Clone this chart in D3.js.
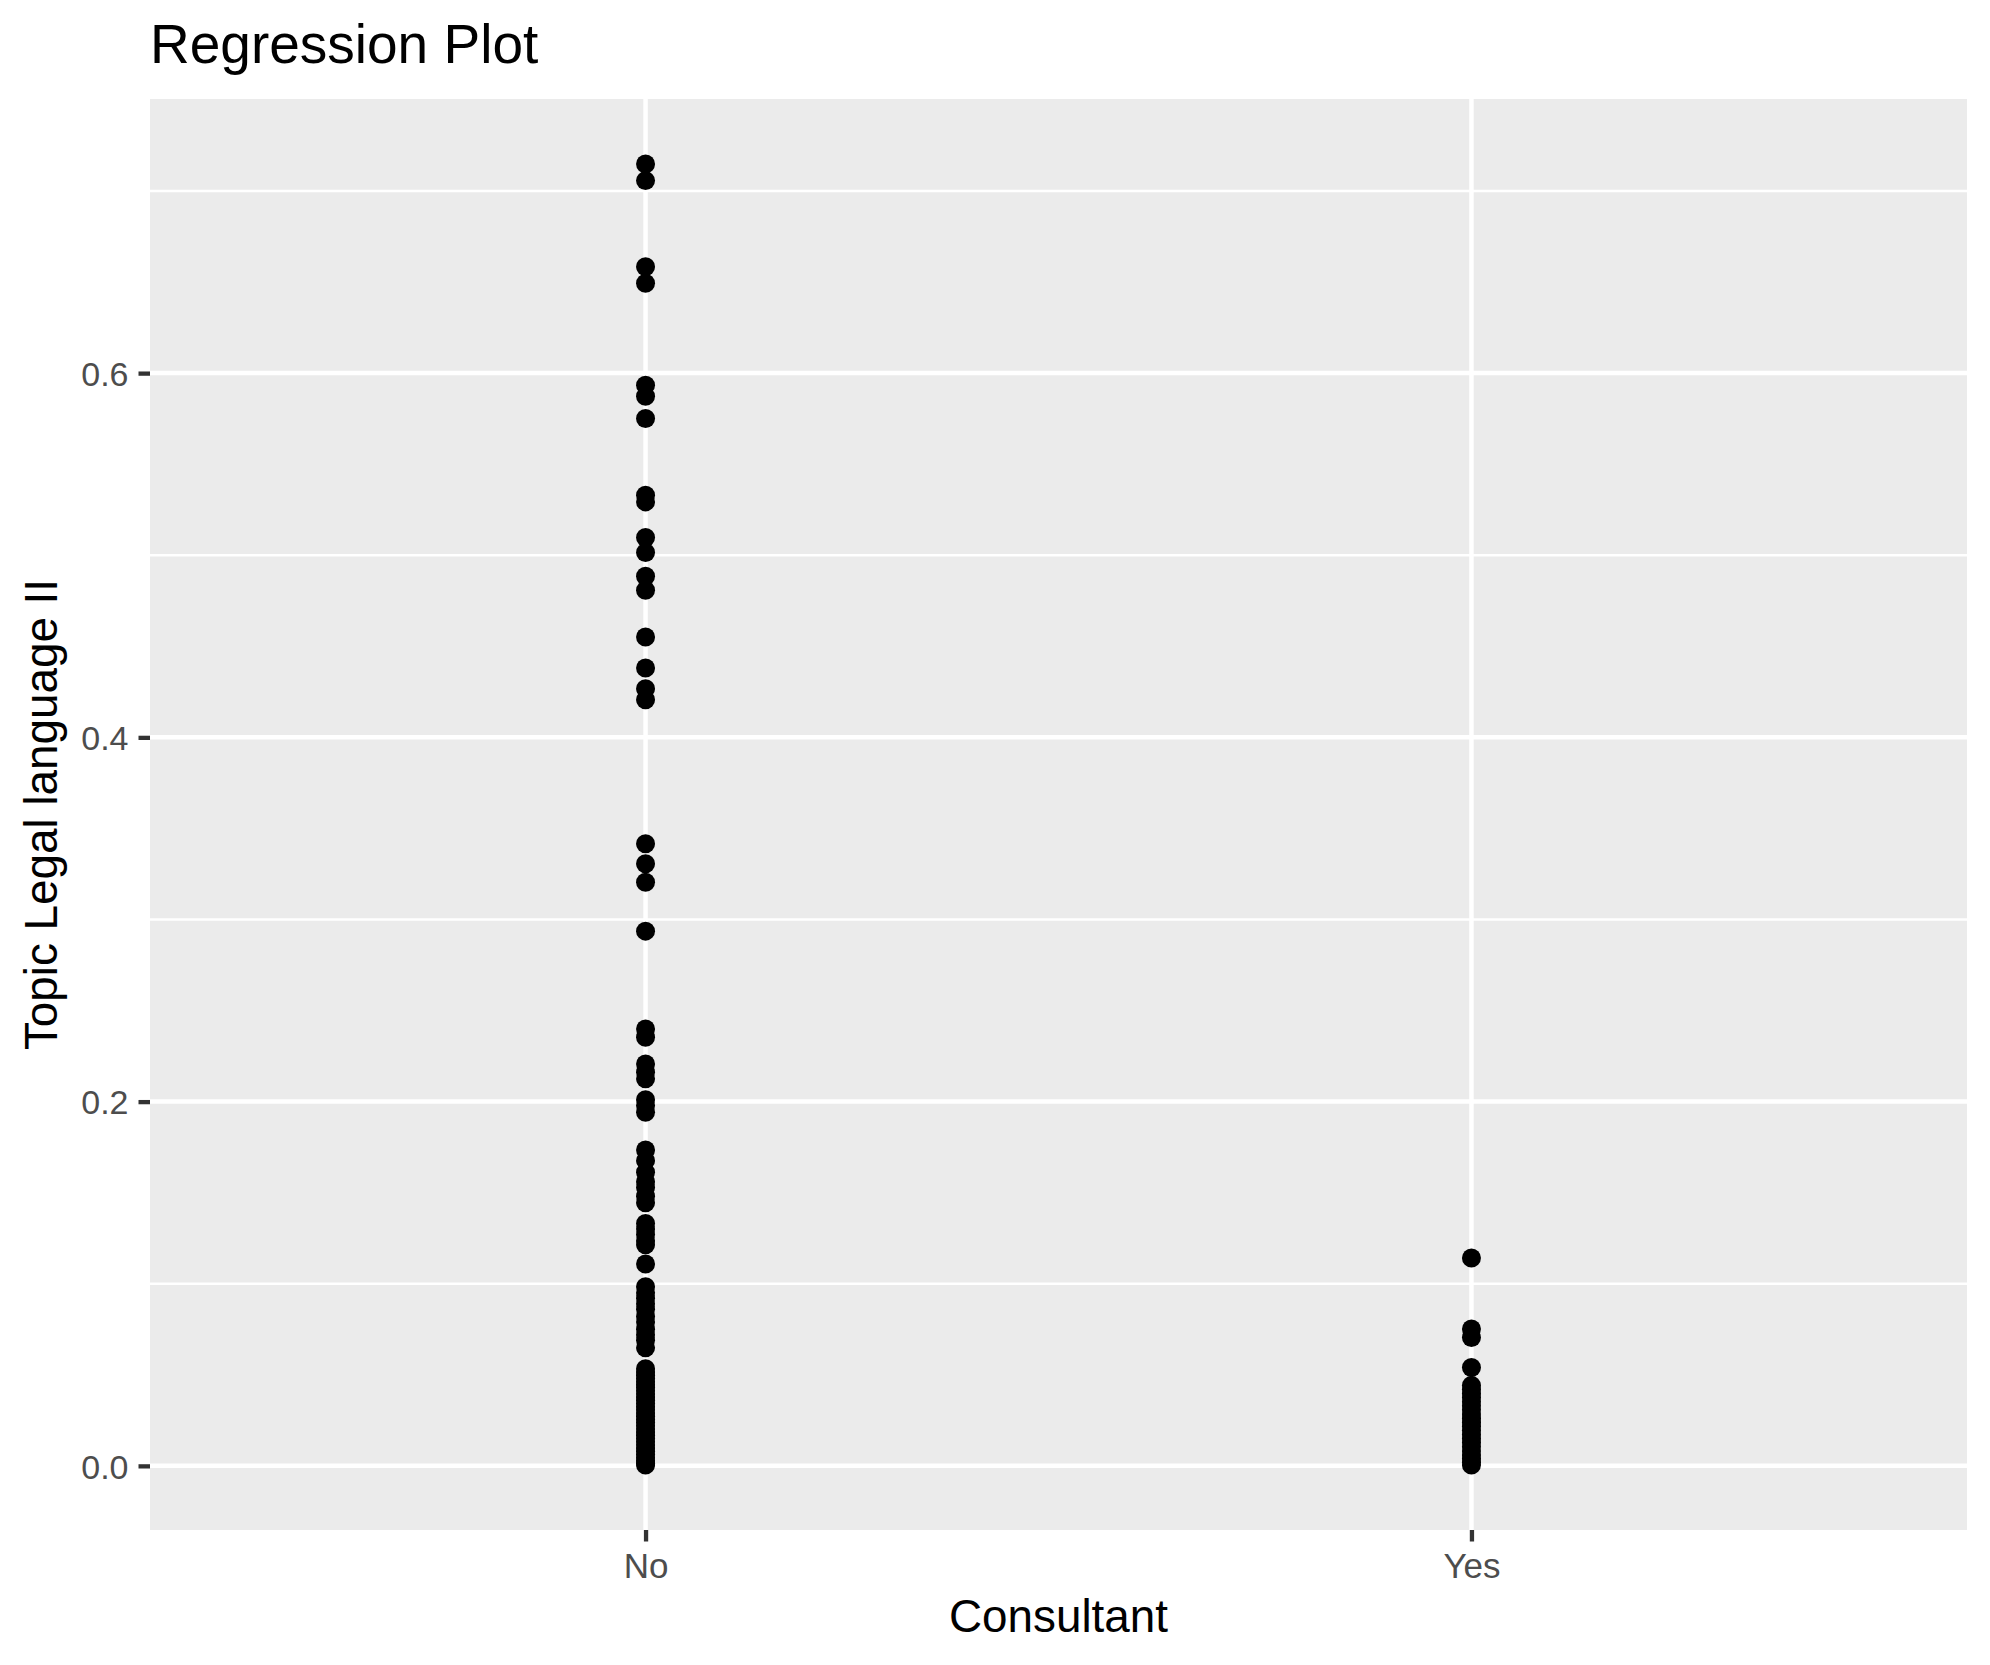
<!DOCTYPE html>
<html>
<head>
<meta charset="utf-8">
<script src="https://cdn.jsdelivr.net/npm/d3@7"></script>
<style>
  html, body { margin: 0; padding: 0; background: #ffffff; }
  svg { display: block; }
  text { font-family: "Liberation Sans", Arial, Helvetica, sans-serif; }
</style>
</head>
<body>
<svg id="chart" width="1990" height="1665"></svg>
<script>
// ---- data ----
const categories = ["No", "Yes"];

const valuesNo = [
  0.7148, 0.7057, 0.6584, 0.6493, 0.5934, 0.5873, 0.5751, 0.5330, 0.5293,
  0.5097, 0.5015, 0.4885, 0.4808, 0.4551, 0.4381, 0.4267, 0.4207,
  0.3416, 0.3306, 0.3205, 0.2936,
  0.2399, 0.2353, 0.2207, 0.2161, 0.2125, 0.2010, 0.1978, 0.1941,
  0.1734, 0.1676, 0.1612, 0.1560, 0.1529, 0.1480, 0.1445,
  0.1331, 0.1300, 0.1270, 0.1236, 0.1214, 0.1108,
  0.0984, 0.0950, 0.0920, 0.0890, 0.0860, 0.0820, 0.0790, 0.0750, 0.0720, 0.0690, 0.0648,
  0.0533, 0.0515, 0.0498, 0.0480, 0.0462, 0.0445, 0.0430, 0.0412, 0.0395, 0.0378,
  0.0360, 0.0342, 0.0325, 0.0308, 0.0290, 0.0272, 0.0255, 0.0238, 0.0220, 0.0203,
  0.0186, 0.0168, 0.0150, 0.0133, 0.0115, 0.0098, 0.0080, 0.0062, 0.0045, 0.0028,
  0.0015, 0.0005
];

const valuesYes = [
  0.1141, 0.0751, 0.0705, 0.0540,
  0.0442, 0.0420, 0.0398, 0.0375, 0.0352, 0.0330, 0.0308, 0.0285, 0.0262,
  0.0240, 0.0218, 0.0195, 0.0172, 0.0150, 0.0128, 0.0105, 0.0082, 0.0060,
  0.0040, 0.0020, 0.0005
];

const yTicks = [0.0, 0.2, 0.4, 0.6];
const yMinor = [0.1, 0.3, 0.5, 0.7];

const titleText = "Regression Plot";
const xTitle = "Consultant";
const yTitle = "Topic Legal language II";

// ---- layout ----
const panel = { left: 150, right: 1967, top: 99, bottom: 1530 };

const svg = d3.select("#chart");

const points = [];
valuesNo.forEach(v => points.push({ cat: "No", v }));
valuesYes.forEach(v => points.push({ cat: "Yes", v }));

const x = d3.scalePoint()
  .domain(categories)
  .range([panel.left, panel.right])
  .padding(0.6);

const allV = points.map(d => d.v);
const vMin = d3.min(allV), vMax = d3.max(allV);
const pad = (vMax - vMin) * 0.05;
const y = d3.scaleLinear()
  .domain([vMin - pad, vMax + pad])
  .range([panel.bottom, panel.top]);

// panel background
svg.append("rect")
  .attr("x", panel.left).attr("y", panel.top)
  .attr("width", panel.right - panel.left)
  .attr("height", panel.bottom - panel.top)
  .attr("fill", "#EBEBEB");

// minor grid
svg.append("g").selectAll("line").data(yMinor).join("line")
  .attr("x1", panel.left).attr("x2", panel.right)
  .attr("y1", d => y(d)).attr("y2", d => y(d))
  .attr("stroke", "#ffffff").attr("stroke-width", 2.3);

// major grid
svg.append("g").selectAll("line").data(yTicks).join("line")
  .attr("x1", panel.left).attr("x2", panel.right)
  .attr("y1", d => y(d)).attr("y2", d => y(d))
  .attr("stroke", "#ffffff").attr("stroke-width", 4.5);

svg.append("g").selectAll("line").data(categories).join("line")
  .attr("x1", d => x(d)).attr("x2", d => x(d))
  .attr("y1", panel.top).attr("y2", panel.bottom)
  .attr("stroke", "#ffffff").attr("stroke-width", 4.5);

// points
svg.append("g").selectAll("circle").data(points).join("circle")
  .attr("cx", d => x(d.cat))
  .attr("cy", d => y(d.v))
  .attr("r", 9.5)
  .attr("fill", "#000000");

// y axis
const yAxis = d3.axisLeft(y)
  .tickValues(yTicks)
  .tickFormat(d3.format(".1f"))
  .tickSize(11.5)
  .tickPadding(10);
const gy = svg.append("g")
  .attr("transform", `translate(${panel.left},0)`)
  .call(yAxis);
gy.select(".domain").remove();
gy.selectAll(".tick line").attr("stroke", "#333333").attr("stroke-width", 4.3);
gy.selectAll(".tick text")
  .attr("fill", "#4D4D4D")
  .attr("font-size", 34)
  .attr("dy", "0.36em")
  .style("font-family", "'Liberation Sans', Arial, sans-serif");

// x axis
const xAxis = d3.axisBottom(x)
  .tickSize(11.5)
  .tickPadding(12);
const gx = svg.append("g")
  .attr("transform", `translate(0,${panel.bottom})`)
  .call(xAxis);
gx.select(".domain").remove();
gx.selectAll(".tick line").attr("stroke", "#333333").attr("stroke-width", 4.3);
gx.selectAll(".tick text")
  .attr("fill", "#4D4D4D")
  .attr("font-size", 35)
  .attr("dy", "0.71em")
  .style("font-family", "'Liberation Sans', Arial, sans-serif");

// titles
svg.append("text")
  .attr("x", panel.left)
  .attr("y", 63)
  .attr("font-size", 55)
  .attr("fill", "#000000")
  .text(titleText);

svg.append("text")
  .attr("x", (panel.left + panel.right) / 2)
  .attr("y", 1632)
  .attr("text-anchor", "middle")
  .attr("font-size", 45.8)
  .attr("fill", "#000000")
  .text(xTitle);

svg.append("text")
  .attr("transform", `translate(57,${(panel.top + panel.bottom) / 2}) rotate(-90)`)
  .attr("text-anchor", "middle")
  .attr("font-size", 45.8)
  .attr("fill", "#000000")
  .text(yTitle);
</script>
</body>
</html>
